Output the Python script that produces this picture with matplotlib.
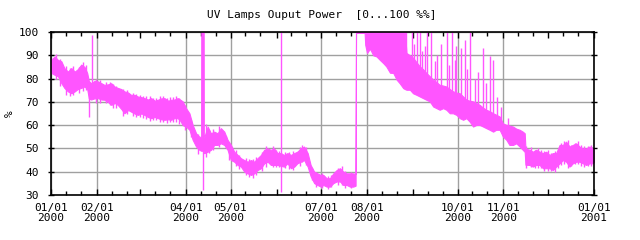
import numpy as np
import matplotlib
matplotlib.use('Agg')
import matplotlib.pyplot as plt
import matplotlib.dates as mdates
from matplotlib.ticker import FixedLocator, FixedFormatter
from datetime import datetime

title = "UV Lamps Ouput Power  [0...100 %%]"
ylabel = "%"

# band of the noisy signal: day offset from 2000-01-01, lower and upper envelope (%)
band_days = [0, 2.5, 4.7, 7, 9, 11.4, 13.7, 16, 18, 20.4, 22.6, 24.4, 25.5, 27, 29.3, 31.6, 34, 36,
             38.3, 40.6, 43, 45, 47.3, 49.5, 52, 54, 56.3, 58.5, 61, 63, 65.3, 67.5, 70, 72, 74.3,
             76.5, 79, 81, 83.2, 85.4, 87, 88.8, 91, 93.3, 95.5, 97.8, 100, 101.2, 101.3, 102.9, 103.0,
             103.4, 105.6, 107.8, 110, 112.3, 114.5, 116.8, 119, 121.3, 123.5, 125.8, 128, 130.3,
             132.5, 134.8, 137, 139.2, 141.5, 143.7, 146, 148.2, 150.4, 152.7, 155, 157, 159.4,
             161.7, 164, 166, 168.4, 170.6, 173, 175, 177.4, 179.6, 181.8, 183.6, 185.8, 188, 190.3,
             192.5, 194.8, 197, 199.3, 201.5, 203.7, 205.3,
             205.6, 211.4, 211.8, 213, 215, 217.2, 219.4, 221.7, 224, 226, 228.5, 230.7, 233, 235,
             237.4, 238.5, 239.6, 241.9, 244, 246.4, 248.6, 250.8, 253, 255.3, 257.6, 259.8, 262,
             264.3, 266.5, 268.8, 271, 273.3, 275.5, 277.8, 280, 282.2, 284.5, 286.7, 289, 291.2,
             293.4, 295.7, 298, 300, 302.4, 304.6, 306.9, 309, 311.4, 313.6, 315.9, 318, 319.3,
             319.8, 322.6, 324.8, 327, 329.3, 331.6, 333.8, 336, 338.3, 340.5, 342.8, 345, 347.2,
             349.5, 351.7, 354, 356.2, 358.5, 360.7, 363, 365.2, 366]
band_low = [82.5, 81.6, 81, 78, 76, 74.5, 73.7, 74.5, 75.5, 76, 76.6, 75.5, 71.5, 71, 71.5, 71.6, 71, 70.9,
            70, 68.7, 69.5, 68.7, 67, 65.1, 66.5, 65.8, 65, 64.4, 65, 64.4, 63.5, 63, 63.5, 63, 62.5,
            62.3, 62.5, 62.3, 63, 63, 62, 60, 59.4, 58, 53.7, 50.8, 49.4, 49, 49, 49, 48,
            48, 48.6, 49.4, 51.5, 51.5, 52.2, 51.5, 49.4, 45, 44.3, 42.9, 42.2, 40,
            39.3, 38.6, 39.3, 40.7, 41.5, 43.6, 44.3, 42.9, 42.9, 42.9, 42.5, 42.2, 43.6,
            41.5, 42.2, 43.6, 44.3, 45, 42.2, 38.1, 35.1, 34.3, 33.6, 34.3, 33.6, 33.6, 35.1,
            35.8, 35.8, 34.3, 34.3, 33.6, 33.6, 34,
            99.6, 99.6, 94.5, 91, 92.8, 90, 89.5, 88, 86.6, 85.2, 82.5, 82.4, 79.5, 78,
            75.9, 75.5, 75.2, 75.2, 73.7, 73, 72.3, 71.6, 70.9, 70.2, 68, 67.3, 66.6,
            67.3, 66.6, 65.1, 65.1, 64.4, 63, 62.3, 63, 61.5, 59.4, 60.1, 60.1, 59.4,
            58.7, 58, 57.2, 58, 58, 55.1, 53.7, 51.5, 51.5, 52.2, 50.8, 49.4, 48.5,
            43, 42.9, 42.2, 42.9, 42.9, 41.5, 41.5, 41.5, 40.7, 42.2, 43.6, 45, 44.3,
            42.2, 43.6, 44.3, 44.3, 43.6, 42.9, 43.6, 43.6, 44.3]
band_high = [88, 89.5, 88, 87.4, 84.5, 83, 84.5, 83, 84, 86, 85, 82.4, 79, 78, 79, 78.8, 78, 77.3,
             77.5, 78, 76.5, 76, 75.5, 74.5, 74, 73, 73, 72.3, 72, 71.6, 71, 71.6, 70.5, 70.9, 71.5,
             71.6, 70.5, 70.9, 71, 71.6, 71, 70.2, 67.3, 65.1, 60.1, 56.5, 55, 55, 101, 101, 55,
             55, 59.4, 56.5, 57.2, 56.5, 58.7, 57.2, 53.7, 51.5, 48.6, 47.2, 45.8, 45,
             44.3, 45, 44.3, 45.8, 47.2, 49.4, 50, 49.4, 50, 48, 48, 47.2, 48,
             47.2, 48, 48.6, 50, 50.8, 48, 42.9, 40, 39.3, 38.6, 38.6, 37.2, 37.2, 39.3,
             40.7, 41.5, 40, 39.3, 39.3, 39.3, 39,
             101, 101, 101, 101, 101, 101, 101, 101, 101, 101, 101, 101, 101, 101,
             101, 100.5, 91, 90, 89, 87, 85.2, 84, 82.4, 81, 79.5, 78.5, 77.3,
             77, 76.6, 75.5, 74.5, 74, 73.7, 72.3, 70.9, 70.5, 70.2, 69.5, 68.7, 67.5,
             66.6, 66, 65.1, 64.5, 63.7, 60.8, 60.1, 59.8, 59.4, 58.5, 58, 57.2, 56.5,
             50, 49.4, 48.6, 49.4, 48.6, 48, 48.6, 47.2, 48, 48, 51.5, 51.5, 52.9,
             50.8, 51.5, 52.2, 50.8, 50, 50, 50.8, 50, 49.4]

# isolated spikes: day offset, lower end, upper end (%)
spike_days = [25.3, 27.8, 102.2, 155, 239.3, 243.1, 246.5, 248.7, 253.2, 256.1, 266.7, 270.1, 282.4,
              258.7, 263.2, 273.3, 276.6, 278.9, 291.2, 295.7, 297.9, 303.5, 308,
              245, 250, 252, 260.5, 268, 272, 280.5, 285.5, 288, 293, 300.5]
spike_low = [63.5, 78, 32, 31.5, 85, 85, 84, 82, 80, 78, 74, 73, 68,
             76, 75, 72, 71, 70, 64, 63, 62, 60, 56,
             84, 81, 79, 75, 72, 70, 66, 64, 63, 62, 60]
spike_high = [76, 98.7, 50, 100, 100, 100, 100, 100, 100, 100, 100, 100, 100,
              87.4, 95, 93.8, 93, 96.7, 93, 89.5, 88, 68, 63,
              95, 92, 94, 90, 86, 88, 84, 80, 83, 78, 72]

# short hair-like excursions at the band edges: day offset, lower end, upper end (%)
hair_days = [1.5, 3.3, 6, 10, 12.5, 15, 19, 21.5, 23.5, 30, 33, 37, 39.5, 42, 44, 48.5, 51,
             55, 57.5, 60, 62, 64, 66.5, 69, 71, 73.5, 75.5, 78, 80, 82, 84.5, 86, 90, 94.5,
             99, 104.5, 106.5, 109, 113, 118, 120, 124.5, 127, 131.5, 133.5, 136, 138, 142.5,
             145, 149.5, 151.5, 154, 158, 160.5, 163, 167.5, 169.5, 172, 176, 178.5, 182.5,
             187, 189, 193.5, 196, 198, 202.5,
             320.5, 323.5, 326, 328, 330.5, 332.5, 335, 337, 339.5, 341.5, 344, 346, 348.5,
             350.5, 353, 355, 357.5, 359.5, 362, 364]
hair_low = [83, 80, 77, 73, 72.5, 73, 74, 74.5, 75, 69.5, 69.5, 69.5, 68.5, 67.5, 67.5, 63.8, 65,
            64, 63.5, 63.5, 63, 62.5, 61.8, 62, 62, 61.5, 61.5, 61, 61.5, 61.5, 61.5, 60.5, 58, 55,
            47.5, 46.5, 48, 49.5, 50.5, 50, 45, 42.5, 41, 38.5, 37.8, 37.5, 38.5, 40.5,
            42, 42, 42, 42, 41.5, 41, 40.7, 42.5, 44, 43, 36.5, 33.5, 33,
            32.5, 33.5, 34.5, 34.5, 33, 32.8,
            41.5, 42, 41.5, 41.5, 41.5, 40.5, 40.5, 40.5, 40, 41.5, 43, 43.5, 41.5,
            42.5, 43.5, 43.5, 42.5, 42, 42.5, 42.5]
hair_high = [89, 90.5, 88.5, 85.5, 84.5, 85.5, 85, 87, 86, 79.8, 79.5, 78.5, 78.5, 77.5, 77, 75.5, 75,
             74, 73.5, 73, 72.5, 72.5, 72.5, 71.5, 71.5, 72.5, 72.5, 71.5, 72, 72, 72.5, 71.8, 68.5, 62,
             56, 60.5, 58, 58.5, 59.5, 55.5, 52.5, 49.5, 47, 46, 45.5, 45.5, 46.5, 48.5,
             51, 51, 49.5, 49, 48.5, 48.5, 49, 50.5, 51.5, 50.5, 41.5, 40, 39.5,
             38, 38.5, 41.5, 42.5, 40.5, 40,
             51, 50.5, 49.5, 50, 49.5, 49, 49.5, 48, 49, 49, 52.5, 53, 53.5,
             51.5, 52.5, 53, 51.5, 51, 51, 51.5]

labeled_dates = ['2000-01-01', '2000-02-01', '2000-04-01', '2000-05-01', '2000-07-01',
                 '2000-08-01', '2000-10-01', '2000-11-01', '2001-01-01']
y_ticks = [30, 40, 50, 60, 70, 80, 90, 100]

color = '#ff55ff'
grid_color = '#a0a0a0'
font = 'DejaVu Sans Mono'
fs = 8

base = mdates.date2num(datetime(2000, 1, 1))
bx = base + np.array(band_days)
sx = base + np.array(spike_days)
hx = base + np.array(hair_days)

fig = plt.figure(figsize=(6.4, 2.4), dpi=100)
ax = fig.add_axes([51/640, 45/240, 543/640, 163/240])

# grid
for d in labeled_dates:
    ax.axvline(mdates.date2num(np.datetime64(d)), color=grid_color, lw=1, zorder=1)
for y in y_ticks:
    ax.axhline(y, color=grid_color, lw=1, zorder=1)

ax.fill_between(bx, band_low, band_high, color=color, lw=0.8, edgecolor=color, zorder=2)
ax.vlines(sx, spike_low, spike_high, color=color, lw=1, zorder=2)
ax.vlines(hx, hair_low, hair_high, color=color, lw=1, zorder=2)

ax.set_xlim(base, mdates.date2num(datetime(2001, 1, 1)))
ax.set_ylim(30, 100)

# x ticks
month_starts = [datetime(2000, m, 1) for m in range(1, 13)] + [datetime(2001, 1, 1)]
major_pos = [mdates.date2num(d) for d in month_starts]
lab_set = set(labeled_dates)
major_lab = []
for d in month_starts:
    key = d.strftime('%Y-%m-%d')
    major_lab.append(d.strftime('%m/%d') + '\n' + d.strftime('%Y') if key in lab_set else '')
minor_pos = [mdates.date2num(datetime(2000, m, dd)) for m in range(1, 13) for dd in (11, 21)]
ax.xaxis.set_major_locator(FixedLocator(major_pos))
ax.xaxis.set_major_formatter(FixedFormatter(major_lab))
ax.xaxis.set_minor_locator(FixedLocator(minor_pos))
ax.tick_params(axis='x', which='both', direction='in', top=True, bottom=True, width=1)
ax.tick_params(axis='x', which='major', length=4, pad=6)
ax.tick_params(axis='x', which='minor', length=3)

ax.set_yticks(y_ticks)
ax.tick_params(axis='y', which='major', direction='inout', length=5, width=1, right=True, pad=6)

for lab in ax.get_xticklabels():
    lab.set_fontfamily(font)
    lab.set_fontsize(fs)
    lab.set_linespacing(1.0)
for lab in ax.get_yticklabels():
    lab.set_fontfamily(font)
    lab.set_fontsize(fs)

for s in ax.spines.values():
    s.set_linewidth(1.2)
    s.set_zorder(3)

ax.set_ylabel(ylabel, fontfamily=font, fontsize=fs)
ax.yaxis.set_label_coords(-0.066, 0.5)
fig.text(0.503, 1 - 15/240, title, fontfamily=font, fontsize=fs, ha='center', va='center')

fig.savefig('out.png', dpi=100)
